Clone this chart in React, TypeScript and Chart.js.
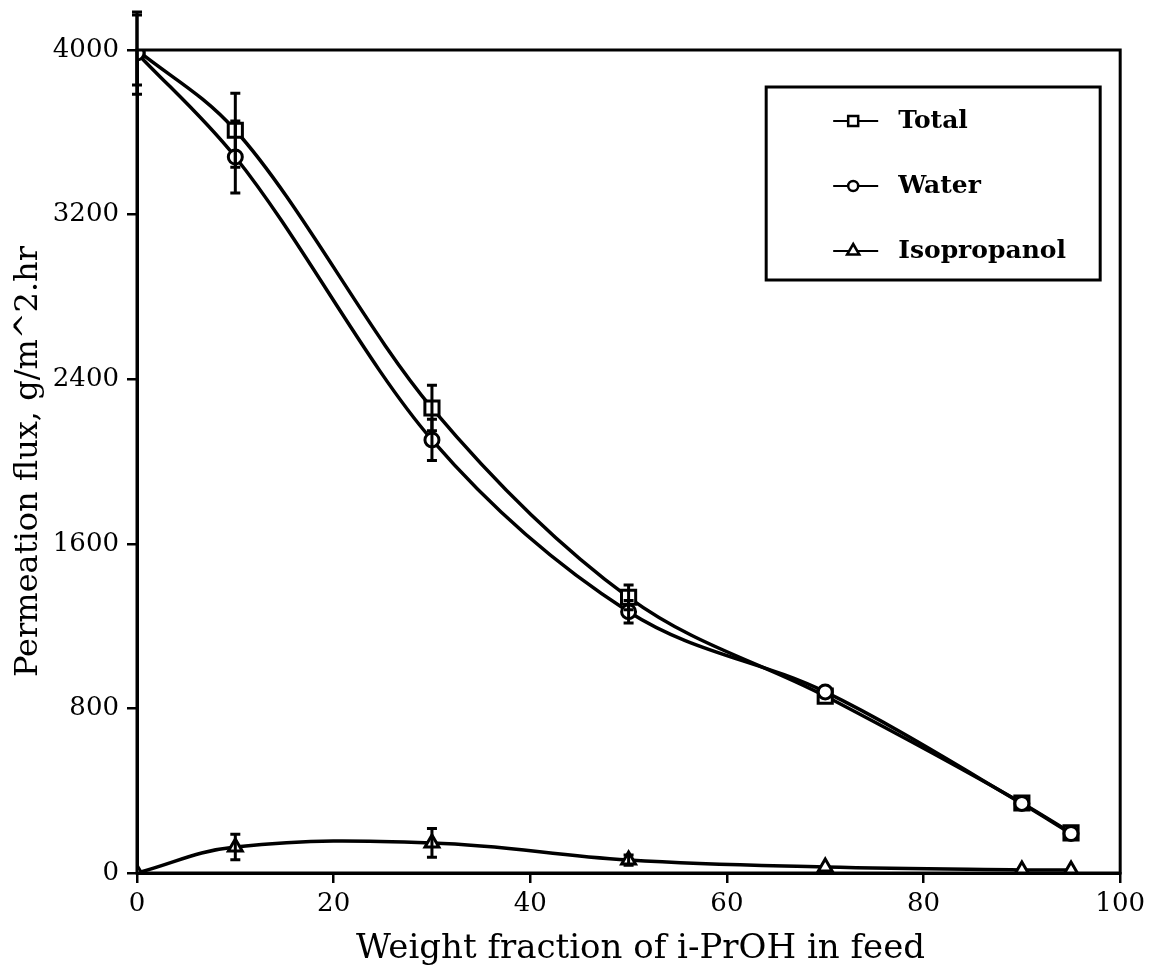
import React, { useEffect, useRef } from 'react';
import { Chart, registerables } from 'chart.js';

Chart.register(...registerables);

// ---- data ----
const feedFraction = [0, 10, 30, 50, 70, 90, 95];
const totalFlux = [4000, 3610, 2260, 1340, 860, 340, 195];
const waterFlux = [3985, 3480, 2105, 1270, 880, 338, 192];
const isoFlux = [0, 126, 146, 63, 29, 15, 15];
const totalErr = [170, 180, 110, 60, 0, 0, 0];
const waterErr = [200, 175, 100, 55, 0, 0, 0];
const isoErr = [0, 62, 70, 25, 0, 0, 0];
const seriesLabels = ['Total', 'Water', 'Isopropanol'];
const xTickValues = [0, 20, 40, 60, 80, 100];
const yTickValues = [0, 800, 1600, 2400, 3200, 4000];
const xTitle = 'Weight fraction of i-PrOH in feed';
const yTitle = 'Permeation flux, g/m^2.hr';

const FONT = 'DejaVu Serif';
const errorSets = [
  { vals: totalFlux, errs: totalErr },
  { vals: waterFlux, errs: waterErr },
  { vals: isoFlux, errs: isoErr },
];

function drawMarker(ctx: CanvasRenderingContext2D, style: string, x: number, y: number, r: number) {
  ctx.beginPath();
  if (style === 'rect') {
    ctx.rect(x - r, y - r, 2 * r, 2 * r);
  } else if (style === 'circle') {
    ctx.arc(x, y, r, 0, Math.PI * 2);
  } else {
    ctx.moveTo(x, y - r);
    ctx.lineTo(x + r * 0.87, y + r * 0.5);
    ctx.lineTo(x - r * 0.87, y + r * 0.5);
    ctx.closePath();
  }
  ctx.fillStyle = '#fff';
  ctx.fill();
  ctx.stroke();
}

const errorBarPlugin = {
  id: 'errorBars',
  afterDatasetsDraw(chart: any) {
    const { ctx, scales } = chart;
    const xs = scales.x;
    const ys = scales.y;
    ctx.save();
    ctx.strokeStyle = '#000';
    ctx.lineWidth = 3;
    errorSets.forEach(({ vals, errs }) => {
      errs.forEach((e, i) => {
        if (!e) return;
        const px = xs.getPixelForValue(feedFraction[i]);
        const top = ys.getPixelForValue(vals[i] + e);
        const bot = ys.getPixelForValue(vals[i] - e);
        ctx.beginPath();
        ctx.moveTo(px, top);
        ctx.lineTo(px, bot);
        ctx.moveTo(px - 5, top);
        ctx.lineTo(px + 5, top);
        ctx.moveTo(px - 5, bot);
        ctx.lineTo(px + 5, bot);
        ctx.stroke();
      });
    });
    ctx.restore();
  },
};

const frameLegendPlugin = {
  id: 'frameLegend',
  afterDraw(chart: any) {
    const { ctx, chartArea } = chart;
    ctx.save();
    ctx.strokeStyle = '#000';
    ctx.lineWidth = 3;
    ctx.strokeRect(chartArea.left, chartArea.top, chartArea.right - chartArea.left, chartArea.bottom - chartArea.top);

    // x axis title
    ctx.fillStyle = '#000';
    ctx.font = `34px "${FONT}"`;
    ctx.textAlign = 'center';
    ctx.textBaseline = 'alphabetic';
    ctx.fillText(xTitle, (chartArea.left + chartArea.right) / 2 + 12, 958);

    // legend box
    const bx = chartArea.right - 354;
    const by = chartArea.top + 37;
    const bw = 334;
    const bh = 193;
    ctx.lineWidth = 3;
    ctx.strokeRect(bx, by, bw, bh);
    const styles = ['rect', 'circle', 'triangle'];
    const radii = [5, 5, 7];
    ctx.font = `bold 25px "${FONT}"`;
    ctx.textBaseline = 'middle';
    ctx.textAlign = 'left';
    seriesLabels.forEach((lab, i) => {
      const y = by + 34 + i * 65;
      ctx.lineWidth = 2;
      ctx.beginPath();
      ctx.moveTo(bx + 67, y);
      ctx.lineTo(bx + 112, y);
      ctx.stroke();
      ctx.lineWidth = 2.5;
      drawMarker(ctx, styles[i], bx + 87, y, radii[i]);
      ctx.fillStyle = '#000';
      ctx.fillText(lab, bx + 132, y);
    });
    ctx.restore();
  },
};

export default function App() {
  const ref = useRef<HTMLCanvasElement>(null);
  useEffect(() => {
    const mk = (vals: number[], i: number, style: string, r: number, mono: boolean) => ({
      label: seriesLabels[i],
      data: feedFraction.map((x, k) => ({ x, y: vals[k] })),
      borderColor: '#000',
      backgroundColor: '#fff',
      borderWidth: 3.5,
      tension: 0.4,
      cubicInterpolationMode: mono ? 'monotone' : 'default',
      pointStyle: style,
      pointRadius: r,
      pointBorderWidth: 3,
      pointBackgroundColor: '#fff',
      pointBorderColor: '#000',
      fill: false,
      order: i === 1 ? 0 : i === 0 ? 1 : 2,
    });
    const chart = new Chart(ref.current as HTMLCanvasElement, {
      type: 'line',
      data: {
        datasets: [
          mk(totalFlux, 0, 'rect', 10, true),
          mk(waterFlux, 1, 'circle', 7, true),
          mk(isoFlux, 2, 'triangle', 8, false),
        ] as any,
      },
      plugins: [errorBarPlugin, frameLegendPlugin],
      options: {
        responsive: false,
        animation: false,
        devicePixelRatio: 1,
        layout: { padding: { top: 50, right: 27, left: 0, bottom: 0 } },
        plugins: { legend: { display: false }, tooltip: { enabled: false } },
        scales: {
          x: {
            type: 'linear',
            min: 0,
            max: 100,
            afterFit: (s: any) => { s.height = 99; },
            afterBuildTicks: (s: any) => { s.ticks = xTickValues.map((v) => ({ value: v })); },
            ticks: { color: '#000', font: { family: FONT, size: 26 }, padding: 6, callback: (v: any) => String(v) },
            grid: { drawOnChartArea: false, drawTicks: true, tickLength: 10, color: '#000', lineWidth: 2.5 },
            border: { display: true, color: '#000', width: 3 },
            title: { display: false },
          },
          y: {
            type: 'linear',
            min: 0,
            max: 4000,
            afterFit: (s: any) => { s.width = 137; },
            afterBuildTicks: (s: any) => { s.ticks = yTickValues.map((v) => ({ value: v })); },
            ticks: { color: '#000', font: { family: FONT, size: 26 }, padding: 8, callback: (v: any) => String(v) },
            grid: { drawOnChartArea: false, drawTicks: true, tickLength: 10, color: '#000', lineWidth: 2.5 },
            border: { display: true, color: '#000', width: 3 },
            title: { display: true, text: yTitle, color: '#000', font: { family: FONT, size: 32 }, padding: { top: 9, bottom: 0 } },
          },
        },
      } as any,
    });
    return () => chart.destroy();
  }, []);
  return (
    <div style={{ position: 'absolute', left: 0, top: 0, width: 1151, height: 972, background: '#fff' }}>
      <canvas ref={ref} width={1151} height={972} style={{ display: 'block' }} />
    </div>
  );
}
